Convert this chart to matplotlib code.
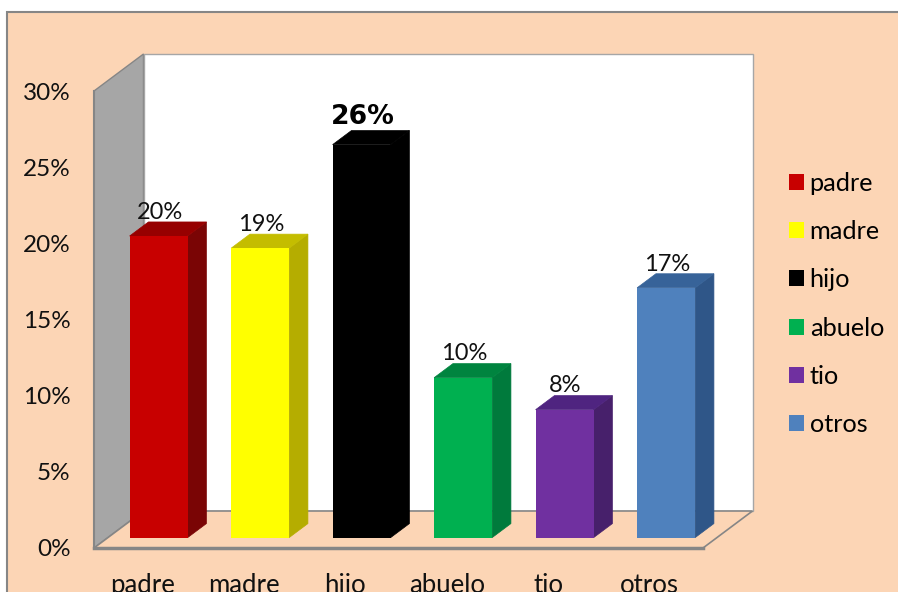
import matplotlib
matplotlib.use("Agg")
import matplotlib.pyplot as plt
from matplotlib.patches import Polygon, Rectangle
from matplotlib.transforms import ScaledTranslation

plt.rcParams['font.family'] = ['Lato', 'DejaVu Sans']

# datos
categorias = ["padre", "madre", "hijo", "abuelo", "tio", "otros"]
valores = [19.8, 19.0, 25.8, 10.5, 8.4, 16.4]
etiquetas = ["20%", "19%", "26%", "10%", "8%", "17%"]
colores = ["#c80000", "#ffff00", "#000000", "#00b050", "#7030a0", "#4f81bd"]
laterales = ["#7a0505", "#b5ad00", "#000000", "#007a3c", "#47206b", "#2f5688"]
superiores = ["#960000", "#c4bd00", "#000000", "#00843f", "#4f2480", "#376399"]
ticks_y = [0, 5, 10, 15, 20, 25, 30]

PEACH = "#fcd5b5"
GRIS = "#868686"

fig = plt.figure(figsize=(8.98, 5.92), dpi=100, facecolor="white")
fig.patches.append(Rectangle((7 / 898, -0.1), 1.0, 1 + 0.1 - 12 / 592, transform=fig.transFigure,
                             facecolor=PEACH, edgecolor=GRIS, linewidth=1.5, zorder=-5))

ax = fig.add_axes([94 / 898, 44 / 592, 609 / 898, 457 / 592])
ax.set_xlim(-0.5, 5.5)
ax.set_ylim(0, 30)
ax.patch.set_alpha(0)
for s in ax.spines.values():
    s.set_visible(False)

# desplazamiento de la profundidad, en unidades de datos
DX = 49.5 / 101.5
DY = 37 / 15.23


def prof(x, y, d):
    return (x + d * DX, y + d * DY)


x0, x1 = -0.5, 5.5
# pared lateral, pared del fondo y piso
ax.add_patch(Polygon([prof(x0, 0, 0), prof(x0, 0, 1), prof(x0, 30, 1), prof(x0, 30, 0)], closed=True,
                     facecolor="#a6a6a6", edgecolor=GRIS, linewidth=1, clip_on=False, zorder=1))
ax.add_patch(Polygon([prof(x0, 0, 1), prof(x1, 0, 1), prof(x1, 30, 1), prof(x0, 30, 1)], closed=True,
                     facecolor="white", edgecolor="#a6a6a6", linewidth=1, clip_on=False, zorder=1))
ax.add_patch(Polygon([prof(x0, 0, 0), prof(x1, 0, 0), prof(x1, 0, 1), prof(x0, 0, 1)], closed=True,
                     facecolor=PEACH, edgecolor=GRIS, linewidth=1.2, clip_on=False, zorder=2))
ax.plot([x0, x1], [0, 0], color=GRIS, linewidth=2.5, clip_on=False, zorder=3)
ax.plot([x0, x0], [0, 30], color=GRIS, linewidth=1.5, clip_on=False, zorder=3)

# barras
D1 = 0.28
D2 = 0.66
ancho = 58 / 101.5
for i, v in enumerate(valores):
    xa, yb = prof(i - ancho / 2, 0, D1)
    ax.bar(xa + ancho / 2, v, width=ancho, bottom=yb, color=colores[i], label=categorias[i],
           clip_on=False, zorder=5)
    xb = xa + ancho
    dd = (D2 - D1)
    ax.add_patch(Polygon([(xb, yb), (xb + dd * DX, yb + dd * DY), (xb + dd * DX, yb + v + dd * DY), (xb, yb + v)],
                         closed=True, facecolor=laterales[i], edgecolor=laterales[i], linewidth=0.5,
                         clip_on=False, zorder=4))
    ax.add_patch(Polygon([(xa, yb + v), (xb, yb + v), (xb + dd * DX, yb + v + dd * DY), (xa + dd * DX, yb + v + dd * DY)],
                         closed=True, facecolor=superiores[i], edgecolor=superiores[i], linewidth=0.5,
                         clip_on=False, zorder=4))
    tx = xa + ancho / 2 + 0.01
    ty = yb + v + dd * DY
    if categorias[i] == "hijo":
        ax.text(tx + 0.0, ty + 0.05, etiquetas[i], ha="center", va="bottom", fontsize=19.2,
                fontweight="bold", family="DejaVu Sans", color="black", zorder=6)
    else:
        ax.text(tx, ty - 0.05, etiquetas[i], ha="center", va="bottom", fontsize=17, color="#111111", zorder=6)

ax.set_xticks(range(len(categorias)))
ax.set_xticklabels(categorias)
ax.set_yticks(ticks_y)
ax.set_yticklabels([f"{t}%" for t in ticks_y])
ax.tick_params(axis="x", length=0, pad=18, labelsize=18.5, labelcolor="#111111")
ax.tick_params(axis="y", length=0, pad=17, labelsize=17.5, labelcolor="#111111")

# las etiquetas del eje x van un poco a la izquierda
corrimiento = ScaledTranslation(-2.5 / 100, 0, fig.dpi_scale_trans)
for t in ax.get_xticklabels():
    t.set_transform(t.get_transform() + corrimiento)

ax.legend(loc="center left", bbox_to_anchor=(789 / 898, 1 - 304 / 592), bbox_transform=fig.transFigure,
          frameon=False, fontsize=18.2, handlelength=0.6, handleheight=0.6, handletextpad=0.22,
          labelspacing=1.0, borderpad=0, borderaxespad=0)

fig.savefig("out.png", dpi=100, facecolor=fig.get_facecolor())
